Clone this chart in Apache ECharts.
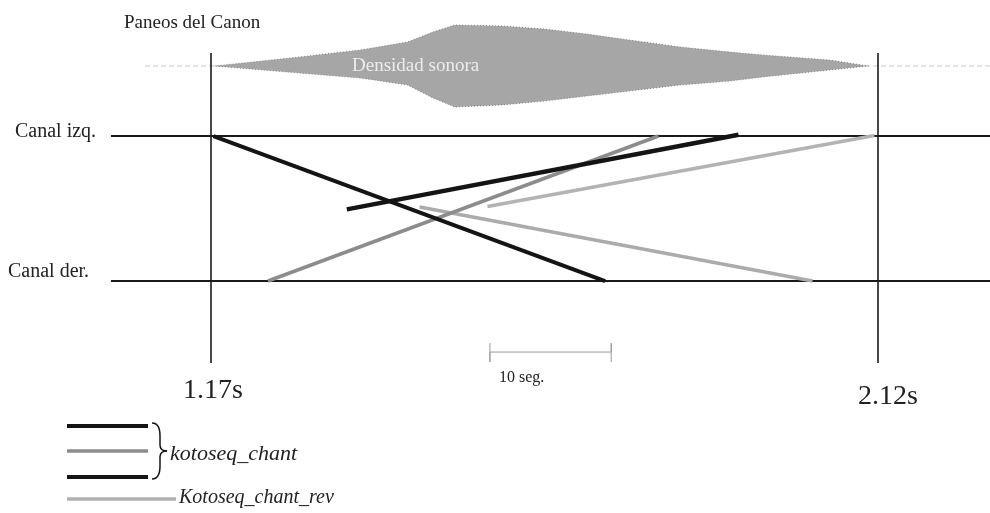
<!DOCTYPE html>
<html>
<head>
<meta charset="utf-8">
<script src="https://cdn.jsdelivr.net/npm/echarts@6/dist/echarts.min.js"></script>
<style>
html,body{margin:0;padding:0;background:#fff;}
#chart{width:990px;height:513px;}
</style>
</head>
<body>
<div id="chart"></div>
<script>
// ---- data (time in seconds, pan: 100 = Canal izq., 0 = Canal der.) ----
const title = 'Paneos del Canon';
const channelLabels = ['Canal izq.', 'Canal der.'];
const channelPan = [100, 0];
const startSec = 77;   // 1:17
const endSec = 132;    // 2:12
const timeTickLabels = ['1.17s', '2.12s'];
const scaleBarSec = [100, 110];
const scaleBarLabel = '10 seg.';
const densityLabel = 'Densidad sonora';
const densityCenter = 148.3;
const densityTime   = [77.3, 84.3, 89.3, 93.2, 95.3, 97.1, 101.0, 104.5, 108.0, 111.5, 115.7, 119.8, 122.5, 128.0, 131.2];
const densityTop    = [148.3, 154.5, 159.3, 164.8, 171.7, 176.6, 175.9, 173.8, 170.3, 166.2, 161.4, 157.9, 155.9, 152.4, 148.3];
const densityBottom = [148.3, 143.4, 140.0, 135.2, 126.2, 120.0, 121.4, 124.1, 127.6, 131.0, 135.2, 137.9, 140.7, 145.5, 148.3];
// kotoseq_chant segments
const chantBlackA = [[77.2, 100], [109.5, 0]];
const chantBlackB = [[88.2, 49.4], [120.5, 100.9]];
const chantGray   = [[81.7, 0], [113.9, 100]];
// Kotoseq_chant_rev segments
const revA = [[94.2, 51.0], [126.6, 0]];
const revB = [[99.8, 51.4], [131.7, 100.3]];
const legendNames = ['kotoseq_chant', 'Kotoseq_chant_rev'];

// ---- view extent and guide-line extents (data units) ----
const viewMinSec = 59.601, viewMaxSec = 141.235;   // full width of the picture
const viewMinPan = -160.0, viewMaxPan = 193.8;     // full height of the picture
const leftEdge = 68.75, rightEdge = 141.235, dashLeft = 71.56;
const vTop = 157.2, vBottom = -56.6;
const barY = -49, barTickTop = -42.8, barTickBottom = -55.9;

const chart = echarts.init(document.getElementById('chart'), null, {renderer: 'canvas'});

function seg(data, color, width, z, dash) {
  return {
    type: 'line', data: data, symbol: 'none', clip: false, z: z || 3,
    lineStyle: {color: color, width: width, type: dash || 'solid', cap: 'butt'},
    silent: true, animation: false
  };
}

const series = [
  seg([[dashLeft, densityCenter], [rightEdge, densityCenter]], '#c8c8c8', 1, 1, [5, 3]),
  {
    type: 'custom', coordinateSystem: 'cartesian2d', clip: false, z: 2, silent: true,
    data: [[densityTime[0], densityCenter]],
    renderItem: function (params, api) {
      const pts = [];
      for (let i = 0; i < densityTime.length; i++) pts.push(api.coord([densityTime[i], densityTop[i]]));
      for (let i = densityTime.length - 1; i >= 0; i--) pts.push(api.coord([densityTime[i], densityBottom[i]]));
      return {type: 'polygon', shape: {points: pts},
        style: {fill: '#a6a6a6', stroke: '#6e6e6e', lineWidth: 0.8, lineDash: [1, 2]}};
    }
  },
  seg([[leftEdge, channelPan[0]], [rightEdge, channelPan[0]]], '#1a1a1a', 2, 2),
  seg([[leftEdge, channelPan[1]], [rightEdge, channelPan[1]]], '#1a1a1a', 2, 2),
  seg([[startSec, vTop], [startSec, vBottom]], '#1a1a1a', 1.6, 2),
  seg([[endSec, vTop], [endSec, vBottom]], '#1a1a1a', 1.6, 2),
  seg([[scaleBarSec[0], barTickTop], [scaleBarSec[0], barTickBottom], [scaleBarSec[0], barY],
       [scaleBarSec[1], barY], [scaleBarSec[1], barTickTop], [scaleBarSec[1], barTickBottom]], '#9a9a9a', 1, 2),
  seg(revA, '#ababab', 3.5, 4),
  seg(revB, '#b3b3b3', 3.5, 4),
  seg(chantGray, '#8c8c8c', 3.5, 5),
  seg(chantBlackA, '#141414', 4, 6),
  seg(chantBlackB, '#141414', 4.5, 6)
];

const serif = '"Liberation Serif", "DejaVu Serif", serif';
function txt(text, x, y, size, extra) {
  return {type: 'text', z: 10, silent: true,
    style: Object.assign({text: text, x: x, y: y, font: size + 'px ' + serif, fill: '#222',
      textVerticalAlign: 'middle', textAlign: 'left'}, extra || {})};
}
function hline(x1, x2, y, color, w) {
  return {type: 'line', z: 10, silent: true, shape: {x1: x1, y1: y, x2: x2, y2: y},
    style: {stroke: color, lineWidth: w}};
}
function curve(x1, y1, cx, cy, x2, y2) {
  return {type: 'bezierCurve', z: 10, silent: true,
    shape: {x1: x1, y1: y1, cpx1: cx, cpy1: cy, x2: x2, y2: y2},
    style: {stroke: '#141414', lineWidth: 1.5, fill: null}};
}
function vline(x, y1, y2) {
  return {type: 'line', z: 10, silent: true, shape: {x1: x, y1: y1, x2: x, y2: y2},
    style: {stroke: '#141414', lineWidth: 1.5}};
}

const graphics = [
  txt(title, 124, 23, 19),
  txt(channelLabels[0], 15, 132, 20),
  txt(channelLabels[1], 8, 272, 20),
  txt(timeTickLabels[0], 183, 391, 28),
  txt(timeTickLabels[1], 858, 397, 28),
  txt(scaleBarLabel, 499, 378, 16),
  txt(densityLabel, 352, 66, 19, {fill: '#ececec'}),
  // legend
  hline(67, 148, 426, '#141414', 4),
  hline(67, 148, 451, '#8c8c8c', 3.5),
  hline(67, 148, 477, '#141414', 4),
  hline(67, 176, 499, '#b0b0b0', 3.5),
  curve(152, 423, 160, 423, 160, 436),
  vline(160, 436, 445),
  curve(160, 445, 160, 451, 167, 451),
  curve(167, 451, 160, 451, 160, 457),
  vline(160, 457, 466),
  curve(160, 466, 160, 479, 152, 479),
  txt(legendNames[0], 170, 454, 22, {font: 'italic 22px ' + serif}),
  txt(legendNames[1], 179, 498, 20, {font: 'italic 20px ' + serif})
];

chart.setOption({
  animation: false,
  backgroundColor: '#ffffff',
  grid: {left: 0, top: 0, right: 0, bottom: 0},
  xAxis: {type: 'value', min: viewMinSec, max: viewMaxSec, show: false},
  yAxis: {type: 'value', min: viewMinPan, max: viewMaxPan, show: false},
  series: series,
  graphic: graphics
});
</script>
</body>
</html>
